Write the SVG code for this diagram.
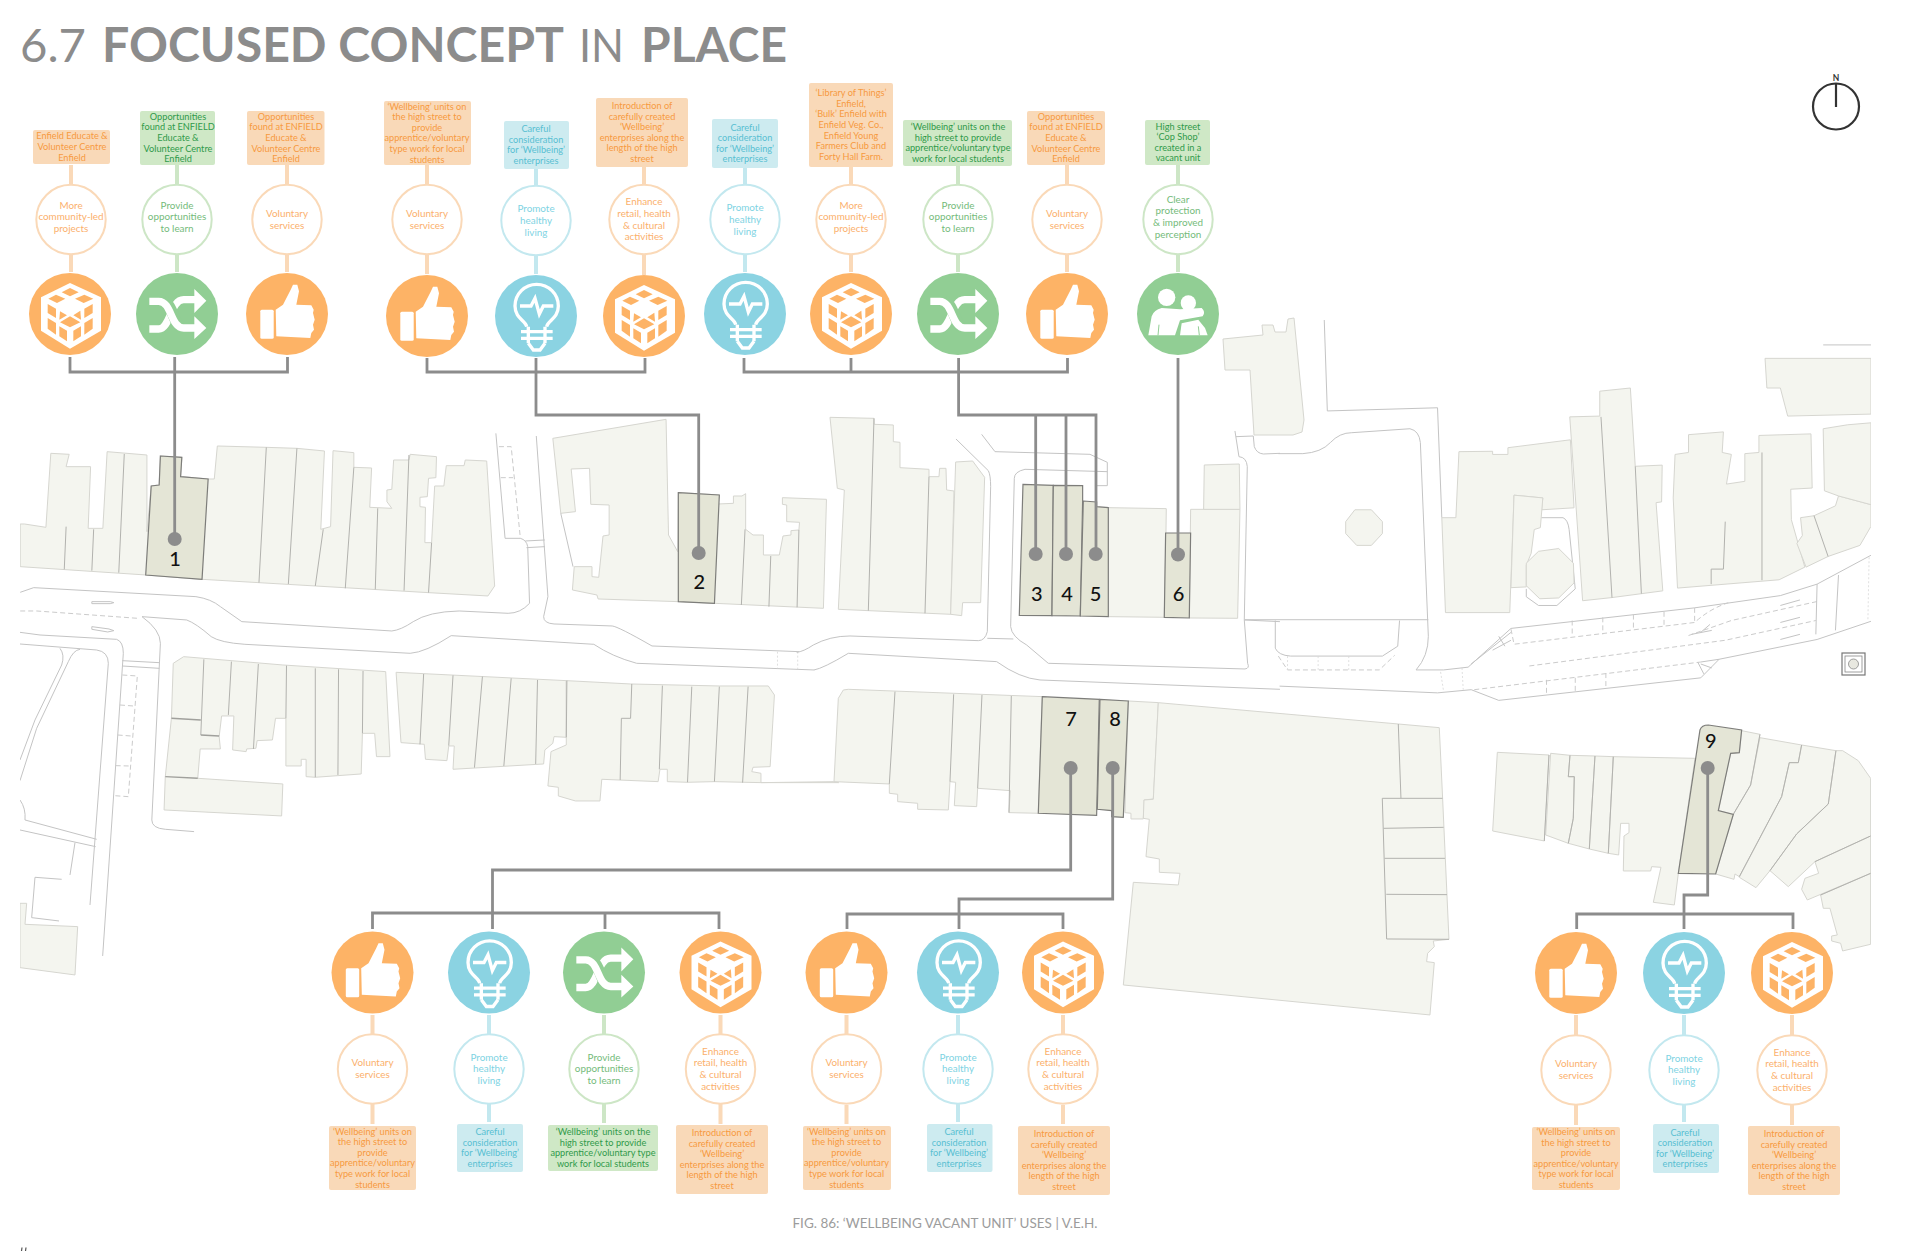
<svg xmlns="http://www.w3.org/2000/svg" width="1920" height="1251" viewBox="0 0 1920 1251">
<style>
text{font-family:"Lato","Liberation Sans",sans-serif}
.b{fill:#f4f5ef;stroke:#d6d6d0;stroke-width:1;vector-effect:non-scaling-stroke}
.d{fill:none;stroke:#b2b2ae;stroke-width:1;vector-effect:non-scaling-stroke}
.dk{fill:none;stroke:#a0a09c;stroke-width:1.4;vector-effect:non-scaling-stroke}
.r{fill:none;stroke:#c4c4c4;stroke-width:1;vector-effect:non-scaling-stroke}
.ds{fill:none;stroke:#cbcbcb;stroke-width:1;stroke-dasharray:5 3;vector-effect:non-scaling-stroke}
.dt{fill:none;stroke:#d8d8d8;stroke-width:.8;stroke-dasharray:2 2;vector-effect:non-scaling-stroke}
.u{fill:#e4e5d6;stroke:#7d7d7a;stroke-width:1.2;vector-effect:non-scaling-stroke}
.tree{fill:none;stroke:#8c8c8c;stroke-width:2.8}
.po{stroke:#fad9b8;stroke-width:4;fill:none}
.pb{stroke:#c3e8ef;stroke-width:4;fill:none}
.pg{stroke:#cde6c6;stroke-width:4;fill:none}
.box{stroke:none}
.mid{fill:#fff;stroke-width:2}
.bt{font-size:9.2px;text-anchor:middle}
.mt{font-size:9.9px;text-anchor:middle}
.o .box{fill:#f9d9b8}.o .mid{stroke:#fad9b8}.o .bt{fill:#f7993f}.o .mt{fill:#fbb06c}
.c .box{fill:#cdebf0}.c .mid{stroke:#c3e8ef}.c .bt{fill:#58bfd2}.c .mt{fill:#80d3e3}
.g .box{fill:#cfe8c6}.g .mid{stroke:#cde6c6}.g .bt{fill:#2f9a4a}.g .mt{fill:#74bb7a}
.pin{fill:#8c8c8c}
.num{font-size:20px;font-weight:500;fill:#111;text-anchor:middle}
.ttl{font-size:47px;fill:#8c8c8c}
</style>
<defs>
<clipPath id="mapclip"><rect x="20" y="300" width="1851" height="730"/></clipPath>
<g id="cube"><circle r="41" fill="#fdb366"/>
<g transform="scale(.3333) translate(-817 -218)">
<polygon points="817,125 910,168 910,268 817,322 730,268 730,168" fill="#fff"/>
<g fill="#fdb366">
<polygon points="817,140 843,153 817,165 792,153"/><polygon points="752,172 775,160 803,172 778,185"/><polygon points="832,172 860,160 887,172 858,185"/><polygon points="817,225 848,243 817,258 787,243"/>
<polygon points="750,188 775,202 775,230 750,215"/><polygon points="787,210 808,222 785,235"/><polygon points="750,230 775,245 775,280 750,262"/><polygon points="785,255 808,268 808,300 785,285"/>
<polygon points="885,188 860,202 860,230 885,215"/><polygon points="848,208 827,222 850,235"/><polygon points="885,230 860,245 860,280 885,262"/><polygon points="850,255 827,268 827,300 850,285"/>
</g></g></g>
<g id="thumb"><circle r="41" fill="#fdb366"/>
<g fill="#fff"><rect x="-26.7" y="-4.3" width="13.4" height="29" rx="1.5"/>
<path d="M-11.3-4.3-4-9.3 3.7-24.3 6-29.3H10.3L12-22.7 9.3-9.3 24.3-8.7 26.7-4.3 26-1 27.7 5.7 26 10.7 27 15.7 24.3 19 23.3 24-10.7 22.3Z"/></g></g>
<g id="bulb"><circle r="41" fill="#8bd3e2"/>
<g transform="scale(.3333) translate(-493 -218)" fill="none" stroke="#fff" stroke-width="10">
<path d="M465 250C462 232 430 225 430 188A65 65 0 0 1 560 188C560 225 528 232 525 250"/>
<path d="M445 188H478L490 165 503 212 515 188H545"/>
<path d="M448 265H543M448 285H543M470 250V300M520 250V300"/><path d="M470 300 485 320H505L520 300"/>
</g></g>
<g id="shuffle"><circle r="41" fill="#91ce94"/>
<g transform="scale(.3333) translate(-155 -148)" fill="none">
<path d="M72 193H100C135 193 135 105 175 105H212" stroke="#fff" stroke-width="22"/>
<path d="M115 110C145 120 145 190 175 190" stroke="#91ce94" stroke-width="34"/>
<path d="M72 110H100C140 110 135 190 175 190H212" stroke="#fff" stroke-width="22"/>
<path d="M207 73 243 108 207 145ZM207 155 243 190 207 223Z" fill="#fff"/>
</g></g>
<g id="people"><circle r="41" fill="#91ce94"/>
<g transform="scale(.3333) translate(-144 -148)" fill="#fff">
<circle cx="110" cy="98" r="26"/><circle cx="175" cy="115" r="23"/>
<path d="M55 212 65 155Q72 135 95 130L150 134 215 130Q228 142 218 155L150 167 135 212Z"/>
<path d="M150 212 155 176 205 165 225 190 233 212Z"/>
<path d="M84 212 87 180M208 212 205 185" stroke="#91ce94" stroke-width="3" fill="none"/>
</g></g>
</defs>
<rect width="1920" height="1251" fill="#fff"/>

<g id="title">
<text class="ttl" x="20" y="62" font-weight="400" textLength="66" lengthAdjust="spacingAndGlyphs">6.7</text>
<text class="ttl" x="102" y="62" font-weight="700" textLength="462" lengthAdjust="spacingAndGlyphs">FOCUSED CONCEPT</text>
<text class="ttl" x="579" y="62" font-weight="400" textLength="45" lengthAdjust="spacingAndGlyphs">IN</text>
<text class="ttl" x="641" y="62" font-weight="700" textLength="146" lengthAdjust="spacingAndGlyphs">PLACE</text>
</g>
<g id="compass" fill="none" stroke="#333" stroke-width="2.2">
<circle cx="1836" cy="106.5" r="23"/><path d="M1836 84V107"/>
<text x="1836" y="81" font-size="8.5" font-weight="700" fill="#333" stroke="none" text-anchor="middle">N</text>
</g>

<g id="map" clip-path="url(#mapclip)">
<g transform="translate(0 400) scale(.6122 .3333)">
<polygon class="b" points="33,500 33,372 40,372 75,382 83,160 113,163 108,200 148,200 144,385 168,385 175,155 240,165 240,395 247,258 260,255 262,168 297,172 295,230 340,237 350,237 355,138 435,142 485,145 530,153 524,388 540,380 544,152 578,158 578,202 607,204 604,322 640,325 632,305 632,270 640,268 643,180 668,180 670,163 713,170 712,233 700,235 698,290 686,292 686,320 695,322 694,428 705,428 710,258 725,258 729,197 758,197 760,180 795,183 808,558 797,588 700,578 515,558 330,538 238,525"/>
<path class="d" d="M108 380 105 508M153 388 150 512M203 162 194 518M435 142 423 548M485 145 471 552M528 388 515 558M578 202 564 565M617 325 613 568M668 165 660 572M705 428 700 578"/>
<polygon class="b" points="903,115 1088,58 1092,405 1107,455 1108,278 1175,285 1173,312 1198,310 1198,288 1212,288 1218,281 1218,388 1230,405 1247,405 1247,465 1273,465 1279,408 1292,405 1292,392 1305,390 1306,367 1285,365 1285,315 1278,313 1278,293 1350,298 1345,625 1108,605 977,597 975,585 935,570 938,500 967,500 967,530 978,532 985,408 995,405 995,315 965,313 963,205 933,207 940,335 916,340"/>
<path class="r" d="M916 340 936 500"/>
<path class="d" d="M1217 388 1211 615M1259 468 1256 620M1305 390 1302 622"/>
<polygon class="b" points="283,790 300,770 462,795 630,815 637,1070 615,1070 612,1000 592,1000 590,1122 515,1132 500,1130 500,1078 492,1078 492,1098 467,1098 467,955 450,955 445,1020 420,1022 418,1045 403,1047 402,1055 380,1050 382,948 362,948 358,1010 360,1047 327,1047 323,1135 462,1152 460,1248 268,1230 270,1130 280,955"/>
<polygon class="b" points="647,817 925,842 925,1012 905,1010 903,1030 890,1050 888,1092 740,1108 742,1038 733,1038 730,1082 695,1078 693,1033 655,1028"/>
<polygon class="b" points="925,842 1030,852 1175,858 1255,858 1265,885 1258,1100 1230,1102 1228,1115 1243,1120 1243,1148 1167,1145 1123,1147 1090,1145 1090,1108 1078,1108 1075,1145 983,1138 980,1203 940,1203 912,1188 912,1162 895,1158 900,1055 925,1035"/>
<polygon class="b" points="1243,1148 1362,1145 1370,1148 1243,1148"/>
<path class="d" d="M333 778 328 1005M378 785 373 945M422 792 414 1047M468 797 467 955M515 805 515 1132M553 808 552 1125M593 813 592 1000M692 822 686 1033M740 826 733 1037M788 830 775 1103M835 835 823 1098M878 840 875 1092M926 842 925 1012M1032 852 1030 955 1015 955 1013 1140M1082 857 1077 1108M1130 860 1123 1147M1175 860 1167 1145M1222 860 1213 1148"/>
<path class="dk" d="M280 955 328 960M328 1005 358 1008M270 1130 323 1135"/>
<path class="r" d="M33 577 55 563 320 590Q345 597 360 620L395 665 640 693Q655 690 675 665 700 635 750 633L830 640Q850 640 865 610L862 440Q860 420 850 415L825 415 810 100"/>
<path class="r" d="M876 108 895 590 888 650Q888 670 905 672L1000 678Q1010 680 1065 738L1305 755"/>
<path class="r" d="M232 650 305 660Q320 670 345 710 360 728 400 733L670 760Q695 757 737 707L970 733Q1000 770 1040 790L1330 810"/>
<path class="ds" d="M815 140H835L850 415M818 233H838M33 633H60L225 655"/>
<path class="dt" d="M1270 755V805M1303 755V808"/>
<path class="r" d="M858 423 890 420M860 443 890 440M150 605H180L186 608 180 611H150ZM150 680 178 687 186 692 176 696 150 688Z"/>
<path class="r" d="M232 650Q262 690 262 730L248 1260Q248 1285 270 1288L317 1295"/>
<polygon class="u" points="262,168 297,172 295,230 340,237 330,538 238,525 247,258 260,255"/>
<polygon class="u" points="1108,278 1175,285 1167,610 1108,605"/>
</g>
<g transform="translate(0 620) scale(.3333)">
<path class="r" d="M60 37 120 45 350 58Q370 65 370 100L308 1008M60 72 290 90Q325 95 325 130L270 855M180 85Q195 105 185 135L105 300 60 420M240 88Q220 90 205 125L110 325 60 482M60 540Q78 565 75 600L290 658M60 630 287 680M225 668 210 765M185 778 105 772 95 893 177 903M367 122 478 128M367 138 478 145"/>
<path class="ds" d="M367 165 412 168 385 530 342 527M360 255 400 258M353 345 393 348M347 437 387 438"/>
<polygon class="b" points="60,850 80,850 75,913 233,920 225,1065 60,1043"/>
</g>
<g transform="translate(780 400) scale(.3333)">
<polygon class="b" points="150,52 282,55 283,73 340,75 340,125 360,127 360,203 447,208 447,230 477,230 479,205 498,205 500,270 522,273 512,643 175,628 193,270 172,265"/>
<polygon class="b" points="527,186 578,183 614,232 602,608 548,608 545,647 512,643"/>
<path class="d" d="M282 55 265 632M447 230 435 640"/>
<path class="r" d="M528 117 625 212Q632 225 632 260L622 695Q615 722 595 722L210 708Q150 708 100 735 70 755 50 757"/>
<path class="r" d="M102 810Q130 805 205 760L650 785Q720 835 780 840L1500 868"/>
<path class="r" d="M605 103 645 155 930 163 982 187V257H945M735 208Q703 215 703 235L692 680Q695 710 740 735L805 790 1395 807Q1410 805 1403 790L1393 660 1500 665M1393 660 1402 200Q1400 172 1377 170L1365 93M622 715 700 717M735 208 982 215M1368 110 1420 108 1423 140Q1430 160 1450 162L1500 160"/>
<polygon class="b" points="985,323 1159,326 1158,400 1153,652 985,650"/>
<polygon class="b" points="1232,328 1380,328 1373,655 1228,654"/>
<polygon class="b" points="1273,195 1378,192 1380,328 1271,328"/>
<polygon class="b" points="175,895 190,870 205,868 787,890 775,1240 687,1238 691,1172 593,1165 590,1220 523,1217 527,1147 510,1145 505,1230 413,1228 413,1210 353,1205 353,1183 328,1180 328,1152 162,1145"/>
<path class="d" d="M345 875 328 1152M521 883 510 1145M606 885 593 1165M694 888 687 1238"/>
<polygon class="b" points="1045,903 1135,908 1120,1197 1093,1200 1090,1257 1053,1257 1053,1240 1035,1238"/>
<polygon class="u" points="729,253 820,256 816,647 718,646"/>
<polygon class="u" points="820,256 908,257 908,303 901,648 816,647"/>
<polygon class="u" points="910,303 950,306 950,320 985,323 985,650 901,648"/>
<polygon class="u" points="1157,399 1232,399 1228,654 1153,652"/>
<polygon class="u" points="787,890 958,898 950,1246 775,1240"/>
<polygon class="u" points="960,898 1045,903 1030,1252 995,1250 995,1232 952,1228"/>
</g>
<g transform="translate(1000 680) scale(.3333)">
<polygon class="b" points="475,68 1195,132 1318,143 1328,355 1347,778 1300,783 1303,800 1283,820 1280,845 1303,848 1290,1005 370,915 400,607 535,615 540,580 478,577 478,537 438,530 448,418 430,415 432,360 460,358"/>
<path class="d" d="M1195 132 1203 355M1147 355H1328M1147 355 1160 777 1347 778M1151 445 1331 442M1154 535H1335M1159 643 1341 644"/>
</g>
<g transform="translate(960 320) scale(.6122 .3954)">
<path class="r" d="M595 0 600 230 780 222 787 500M522 926 780 943 835 935 880 962 1210 905 1240 858 1400 808 1488 762"/>
<path class="r" d="M520 338H560Q590 335 605 310 620 285 640 285L735 275Q750 280 752 310L765 800Q765 850 745 885H790L830 878 900 780 1200 728 1340 697 1400 668 1488 595"/>
<path class="r" d="M465 758 765 758M515 760V830Q520 848 540 850H690L715 825 718 760"/>
<path class="ds" d="M520 850 535 885H685L710 848"/>
<path class="dt" d="M535 850V885M585 850V885M635 850V885M1485 600 1483 760M785 890 790 940M820 880 822 935"/>
<path class="ds" d="M900 782 905 820 1200 765Q1225 730 1255 715M1000 760V800M1050 752V795M1100 745V785M1150 738V778M1200 728V765M840 935 1210 865M958 910V945M1005 905V938M1055 893V930M930 875 1250 810 1398 760M1190 798 1260 760 1400 712"/>
<path class="r" d="M900 790 835 870M900 810 870 835M880 800 890 825M1240 858 1210 865M1215 895 1205 865M1228 880 1210 870M1400 668 1398 795M1435 645 1430 785M1340 722 1372 708M1340 765 1372 752M1340 808 1372 795M1195 795 1228 785M1210 790 1225 770"/>
<polygon class="b" points="630,510 645,480 672,480 690,510 690,540 672,570 648,570 630,540"/>
<polygon class="b" points="787,500 810,500 815,333 870,332 870,340 895,340 895,323 997,303 1003,475 950,480 952,450 905,443 898,740 793,740"/>
<polygon class="b" points="905,443 952,450 948,525 938,530 933,590 925,620 925,675 900,677"/>
<path class="r" d="M950 500H985Q993 505 995 530L1005 680 975 722H945L925 700V680"/>
<polygon class="b" points="925,615 945,585 978,578 1002,615 1003,665 978,703 947,705 925,672"/>
<polygon class="b" points="996,245 1045,243 1045,180 1095,172 1103,370 1147,367 1146,460 1137,462 1148,685 1065,702 1017,710"/>
<path class="d" d="M1047 245 1065 702M1103 370 1113 692"/>
<polygon class="b" points="1168,340 1190,335 1190,290 1247,283 1245,335 1260,340 1252,415 1282,408 1282,338 1305,335 1305,292 1390,288 1392,425 1357,428 1358,505 1380,625 1338,657 1172,678 1165,450"/>
<path class="d" d="M1310 335V658M1247 630H1227V668M1250 510 1247 630"/>
<polygon class="b" points="1373,500 1395,495 1430,470 1435,445 1488,467 1488,522 1470,570 1418,598 1382,625 1367,565 1376,545"/>
<path class="d" d="M1395 495 1418 598"/>
<polygon class="b" points="1410,275 1450,265 1488,260 1488,467 1435,445 1412,432"/>
<polygon class="b" points="1315,97 1488,97 1488,238 1352,243 1340,172 1318,172"/>
<path class="r" d="M1410 63H1488"/>
</g>
<polygon class="b" points="1223,339 1263,335 1262,325 1273,325 1275,332 1286,332 1288,319 1294,318 1304,420 1302,432 1293,435 1254,435 1250,370 1225,370"/>
<g id="marker"><rect x="1842" y="653" width="23" height="22" fill="none" stroke="#777" stroke-width="1.2"/><rect x="1845" y="656" width="17" height="16" fill="none" stroke="#888" stroke-width=".8"/><circle cx="1853.5" cy="664" r="5" fill="#e8e8e0" stroke="#888" stroke-width=".8"/></g>
<g transform="translate(1480 680) scale(.3333)">
<polygon class="b" points="52,217 207,225 193,483 38,453"/>
<polygon class="b" points="212,220 270,226 265,290 283,290 280,415 265,490 197,465"/>
<polygon class="b" points="270,226 345,228 328,507 265,490 280,415 283,290 265,290"/>
<polygon class="b" points="345,228 400,230 385,520 328,507"/>
<polygon class="b" points="400,230 645,235 595,580 583,675 520,667 543,562 515,560 512,573 430,573 432,468 447,458 447,430 422,430 416,525 385,520"/>
<polygon class="b" points="785,152 840,163 812,315 760,403 715,392 752,220 778,218"/>
<polygon class="b" points="760,403 812,315 840,173 965,195 955,248 928,248 905,350 778,590 765,582 762,598 707,582"/>
<polygon class="b" points="965,195 1068,212 1045,372 950,462 870,572 828,623 778,592 905,350 928,248 955,248"/>
<polygon class="b" points="1068,212 1088,212 1135,242 1172,295 1172,468 1005,545 925,620 870,572 950,462 1045,372"/>
<polygon class="b" points="1022,645 1172,580 1172,793 1088,813 1082,790 1055,783 1055,768 1072,765 1050,685 1030,685"/>
<polygon class="b" points="1005,545 1172,468 1172,580 982,660 965,628 975,595 1016,580"/>
<path class="d" d="M207 225 193 483M270 226 265 290H283L280 415 265 490M345 228 328 507M400 230 385 520M965 195 955 248H928L905 350 778 590M1068 212 1045 372 950 462 870 572M1005 545 1172 468M1022 645 1172 580M840 163 812 315 760 403"/>
<path class="u" d="M660 150Q665 135 685 135L785 150 778 218 752 220 715 392 760 403 707 582 595 580Z"/>
</g>
</g>

<g id="connectors">
<g class="tree">
<path d="M70 357V372H287.5V357M174.7 357V539"/>
<path d="M427 358V372H645V358M536 358V415H698.7V553"/>
<path d="M744 358V372H1067.5V358M851 358V372M958.6 358V415H1096V554M1035.7 415V554M1066 415V554"/>
<path d="M1178 358V554"/>
<path d="M372.5 929V913H719V929M492.5 929V870H1070.7V768M605 913V929"/>
<path d="M847 929V914H1063V929M959 929V899H1112.7V768"/>
<path d="M1576.7 929V914H1793V929M1684 929V895H1707.7V768"/>
</g>
<path class="po" d="M71 165V185M71 254V272M287 165V185M287 254V272M427 165V185M427 254V274M644 167V185M644 254V275M851 167V185M851 253V272M1067 165V185M1067 253V272M372.5 1015V1034M372.5 1104V1124M720.5 1015V1034M720.5 1104V1124M846.5 1015V1034M846.5 1105V1124M1063 1015V1034M1063 1105V1124M1576 1015V1035M1576 1105V1125M1792 1015V1035M1792 1105V1125"/>
<path class="pb" d="M536 169V186M536 255V274M745 168V185M745 253V272M489 1015V1034M489 1104V1122M958 1015V1034M958 1104V1122M1684 1015V1035M1684 1105V1122"/>
<path class="pg" d="M177 165V185M177 254V272M958 166V185M958 253V272M1178 165V185M1178 253V272M604 1015V1034M604 1104V1123"/>
</g>

<g id="pins">
<g id="pin1"><circle class="pin" cx="174.7" cy="539" r="7"/><text class="num" x="175" y="566">1</text></g>
<g id="pin2"><circle class="pin" cx="698.7" cy="553" r="7"/><text class="num" x="699.3" y="589">2</text></g>
<g id="pin3"><circle class="pin" cx="1035.7" cy="554" r="7"/><text class="num" x="1036.7" y="601">3</text></g>
<g id="pin4"><circle class="pin" cx="1066" cy="554" r="7"/><text class="num" x="1067" y="601">4</text></g>
<g id="pin5"><circle class="pin" cx="1095.7" cy="554" r="7"/><text class="num" x="1095.5" y="601">5</text></g>
<g id="pin6"><circle class="pin" cx="1178" cy="554.5" r="7"/><text class="num" x="1178.5" y="601">6</text></g>
<g id="pin7"><circle class="pin" cx="1070.7" cy="768" r="7"/><text class="num" x="1071" y="726">7</text></g>
<g id="pin8"><circle class="pin" cx="1112.7" cy="768" r="7"/><text class="num" x="1115" y="726">8</text></g>
<g id="pin9"><circle class="pin" cx="1707.7" cy="768" r="7"/><text class="num" x="1710.7" y="748">9</text></g>
</g>

<g id="n1" class="o" transform="translate(71 0)"><rect class="box" x="-38" y="130" width="77" height="34" rx="2"/>
<text class="bt" y="139.4"><tspan x="1">Enfield Educate &amp;</tspan><tspan x="1" dy="10.6">Volunteer Centre</tspan><tspan x="1" dy="10.6">Enfield</tspan></text>
<circle class="mid" cy="219.5" r="34.7"/><text class="mt" y="208.6"><tspan x="0">More</tspan><tspan x="0" dy="11.8">community-led</tspan><tspan x="0" dy="11.8">projects</tspan></text><use href="#cube" x="-1" y="314"/></g>

<g id="n2" class="g" transform="translate(177 0)"><rect class="box" x="-37" y="111" width="75" height="54" rx="2"/>
<text class="bt" y="119.8"><tspan x="1">Opportunities</tspan><tspan x="1" dy="10.6">found at ENFIELD</tspan><tspan x="1" dy="10.6">Educate &amp;</tspan><tspan x="1" dy="10.6">Volunteer Centre</tspan><tspan x="1" dy="10.6">Enfield</tspan></text>
<circle class="mid" cy="219.5" r="34.7"/><text class="mt" y="208.6"><tspan x="0">Provide</tspan><tspan x="0" dy="11.8">opportunities</tspan><tspan x="0" dy="11.8">to learn</tspan></text><use href="#shuffle" y="314"/></g>

<g id="n3" class="o" transform="translate(287 0)"><rect class="box" x="-40" y="111" width="77.5" height="54" rx="2"/>
<text class="bt" y="119.8"><tspan x="-1">Opportunities</tspan><tspan x="-1" dy="10.6">found at ENFIELD</tspan><tspan x="-1" dy="10.6">Educate &amp;</tspan><tspan x="-1" dy="10.6">Volunteer Centre</tspan><tspan x="-1" dy="10.6">Enfield</tspan></text>
<circle class="mid" cy="219.5" r="34.7"/><text class="mt" y="216.9"><tspan x="0">Voluntary</tspan><tspan x="0" dy="11.8">services</tspan></text><use href="#thumb" y="314"/></g>

<g id="n4" class="o" transform="translate(427 0)"><rect class="box" x="-43" y="101" width="87" height="64" rx="2"/>
<text class="bt" y="109.5"><tspan x="0">‘Wellbeing’ units on</tspan><tspan x="0" dy="10.6">the high street to</tspan><tspan x="0" dy="10.6">provide</tspan><tspan x="0" dy="10.6">apprentice/voluntary</tspan><tspan x="0" dy="10.6">type work for local</tspan><tspan x="0" dy="10.6">students</tspan></text>
<circle class="mid" cy="219.5" r="34.7"/><text class="mt" y="216.9"><tspan x="0">Voluntary</tspan><tspan x="0" dy="11.8">services</tspan></text><use href="#thumb" y="316"/></g>

<g id="n5" class="c" transform="translate(536 0)"><rect class="box" x="-32" y="121" width="65" height="48" rx="2"/>
<text class="bt" y="132"><tspan x="0">Careful</tspan><tspan x="0" dy="10.6">consideration</tspan><tspan x="0" dy="10.6">for ‘Wellbeing’</tspan><tspan x="0" dy="10.6">enterprises</tspan></text>
<circle class="mid" cy="220.5" r="34.7"/><text class="mt" y="212"><tspan x="0">Promote</tspan><tspan x="0" dy="11.8">healthy</tspan><tspan x="0" dy="11.8">living</tspan></text><use href="#bulb" y="316"/></g>

<g id="n6" class="o" transform="translate(644 0)"><rect class="box" x="-48" y="98" width="92" height="69" rx="2"/>
<text class="bt" y="109"><tspan x="-2">Introduction of</tspan><tspan x="-2" dy="10.6">carefully created</tspan><tspan x="-2" dy="10.6">‘Wellbeing’</tspan><tspan x="-2" dy="10.6">enterprises along the</tspan><tspan x="-2" dy="10.6">length of the high</tspan><tspan x="-2" dy="10.6">street</tspan></text>
<circle class="mid" cy="219.5" r="34.7"/><text class="mt" y="205"><tspan x="0">Enhance</tspan><tspan x="0" dy="11.8">retail, health</tspan><tspan x="0" dy="11.8">&amp; cultural</tspan><tspan x="0" dy="11.8">activities</tspan></text><use href="#cube" y="316"/></g>

<g id="n7" class="c" transform="translate(745 0)"><rect class="box" x="-33" y="119" width="66" height="49" rx="2"/>
<text class="bt" y="130.6"><tspan x="0">Careful</tspan><tspan x="0" dy="10.6">consideration</tspan><tspan x="0" dy="10.6">for ‘Wellbeing’</tspan><tspan x="0" dy="10.6">enterprises</tspan></text>
<circle class="mid" cy="219.5" r="34.7"/><text class="mt" y="211"><tspan x="0">Promote</tspan><tspan x="0" dy="11.8">healthy</tspan><tspan x="0" dy="11.8">living</tspan></text><use href="#bulb" y="314"/></g>

<g id="n8" class="o" transform="translate(851 0)"><rect class="box" x="-42" y="83" width="84" height="84" rx="2"/>
<text class="bt" y="96.2"><tspan x="0">‘Library of Things’</tspan><tspan x="0" dy="10.6">Enfield,</tspan><tspan x="0" dy="10.6">‘Bulk’ Enfield with</tspan><tspan x="0" dy="10.6">Enfield Veg. Co.,</tspan><tspan x="0" dy="10.6">Enfield Young</tspan><tspan x="0" dy="10.6">Farmers Club and</tspan><tspan x="0" dy="10.6">Forty Hall Farm.</tspan></text>
<circle class="mid" cy="219.5" r="34.7"/><text class="mt" y="208.6"><tspan x="0">More</tspan><tspan x="0" dy="11.8">community-led</tspan><tspan x="0" dy="11.8">projects</tspan></text><use href="#cube" y="314"/></g>

<g id="n9" class="g" transform="translate(958 0)"><rect class="box" x="-55" y="120" width="109" height="46" rx="2"/>
<text class="bt" y="130"><tspan x="0">‘Wellbeing’ units on the</tspan><tspan x="0" dy="10.6">high street to provide</tspan><tspan x="0" dy="10.6">apprentice/voluntary type</tspan><tspan x="0" dy="10.6">work for local students</tspan></text>
<circle class="mid" cy="219.5" r="34.7"/><text class="mt" y="208.6"><tspan x="0">Provide</tspan><tspan x="0" dy="11.8">opportunities</tspan><tspan x="0" dy="11.8">to learn</tspan></text><use href="#shuffle" y="314"/></g>

<g id="n10" class="o" transform="translate(1067 0)"><rect class="box" x="-40" y="111" width="78" height="54" rx="2"/>
<text class="bt" y="119.8"><tspan x="-1">Opportunities</tspan><tspan x="-1" dy="10.6">found at ENFIELD</tspan><tspan x="-1" dy="10.6">Educate &amp;</tspan><tspan x="-1" dy="10.6">Volunteer Centre</tspan><tspan x="-1" dy="10.6">Enfield</tspan></text>
<circle class="mid" cy="219.5" r="34.7"/><text class="mt" y="216.9"><tspan x="0">Voluntary</tspan><tspan x="0" dy="11.8">services</tspan></text><use href="#thumb" y="314"/></g>

<g id="n11" class="g" transform="translate(1178 0)"><rect class="box" x="-33" y="120" width="65" height="45" rx="2"/>
<text class="bt" y="129.6"><tspan x="0">High street</tspan><tspan x="0" dy="10.6">‘Cop Shop’</tspan><tspan x="0" dy="10.6">created in a</tspan><tspan x="0" dy="10.6">vacant unit</tspan></text>
<circle class="mid" cy="219.5" r="34.7"/><text class="mt" y="202.6"><tspan x="0">Clear</tspan><tspan x="0" dy="11.8">protection</tspan><tspan x="0" dy="11.8">&amp; improved</tspan><tspan x="0" dy="11.8">perception</tspan></text><use href="#people" y="314"/></g>

<g id="n12" class="o" transform="translate(372.5 0)"><use href="#thumb" y="972.5"/><circle class="mid" cy="1069" r="34.7"/><text class="mt" y="1066.4"><tspan x="0">Voluntary</tspan><tspan x="0" dy="11.8">services</tspan></text>
<rect class="box" x="-43.5" y="1126" width="87" height="64" rx="2"/><text class="bt" y="1134.5"><tspan x="0">‘Wellbeing’ units on</tspan><tspan x="0" dy="10.6">the high street to</tspan><tspan x="0" dy="10.6">provide</tspan><tspan x="0" dy="10.6">apprentice/voluntary</tspan><tspan x="0" dy="10.6">type work for local</tspan><tspan x="0" dy="10.6">students</tspan></text></g>

<g id="n13" class="c" transform="translate(489 0)"><use href="#bulb" y="972.5"/><circle class="mid" cy="1069" r="34.7"/><text class="mt" y="1060.5"><tspan x="0">Promote</tspan><tspan x="0" dy="11.8">healthy</tspan><tspan x="0" dy="11.8">living</tspan></text>
<rect class="box" x="-32" y="1124" width="66" height="48" rx="2"/><text class="bt" y="1135"><tspan x="1">Careful</tspan><tspan x="1" dy="10.6">consideration</tspan><tspan x="1" dy="10.6">for ‘Wellbeing’</tspan><tspan x="1" dy="10.6">enterprises</tspan></text></g>

<g id="n14" class="g" transform="translate(604 0)"><use href="#shuffle" y="972.5"/><circle class="mid" cy="1069" r="34.7"/><text class="mt" y="1060.5"><tspan x="0">Provide</tspan><tspan x="0" dy="11.8">opportunities</tspan><tspan x="0" dy="11.8">to learn</tspan></text>
<rect class="box" x="-56" y="1125" width="110" height="46" rx="2"/><text class="bt" y="1135"><tspan x="-1">‘Wellbeing’ units on the</tspan><tspan x="-1" dy="10.6">high street to provide</tspan><tspan x="-1" dy="10.6">apprentice/voluntary type</tspan><tspan x="-1" dy="10.6">work for local students</tspan></text></g>

<g id="n15" class="o" transform="translate(720.5 0)"><use href="#cube" y="972.5"/><circle class="mid" cy="1069" r="34.7"/><text class="mt" y="1054.6"><tspan x="0">Enhance</tspan><tspan x="0" dy="11.8">retail, health</tspan><tspan x="0" dy="11.8">&amp; cultural</tspan><tspan x="0" dy="11.8">activities</tspan></text>
<rect class="box" x="-44.5" y="1125" width="92" height="69" rx="2"/><text class="bt" y="1136"><tspan x="1.5">Introduction of</tspan><tspan x="1.5" dy="10.6">carefully created</tspan><tspan x="1.5" dy="10.6">‘Wellbeing’</tspan><tspan x="1.5" dy="10.6">enterprises along the</tspan><tspan x="1.5" dy="10.6">length of the high</tspan><tspan x="1.5" dy="10.6">street</tspan></text></g>

<g id="n16" class="o" transform="translate(846.5 0)"><use href="#thumb" y="972.5"/><circle class="mid" cy="1069" r="34.7"/><text class="mt" y="1066.4"><tspan x="0">Voluntary</tspan><tspan x="0" dy="11.8">services</tspan></text>
<rect class="box" x="-43.5" y="1126" width="88" height="64" rx="2"/><text class="bt" y="1134.5"><tspan x="0">‘Wellbeing’ units on</tspan><tspan x="0" dy="10.6">the high street to</tspan><tspan x="0" dy="10.6">provide</tspan><tspan x="0" dy="10.6">apprentice/voluntary</tspan><tspan x="0" dy="10.6">type work for local</tspan><tspan x="0" dy="10.6">students</tspan></text></g>

<g id="n17" class="c" transform="translate(958 0)"><use href="#bulb" y="972.5"/><circle class="mid" cy="1069" r="34.7"/><text class="mt" y="1060.5"><tspan x="0">Promote</tspan><tspan x="0" dy="11.8">healthy</tspan><tspan x="0" dy="11.8">living</tspan></text>
<rect class="box" x="-31" y="1124" width="65.5" height="48" rx="2"/><text class="bt" y="1135"><tspan x="1">Careful</tspan><tspan x="1" dy="10.6">consideration</tspan><tspan x="1" dy="10.6">for ‘Wellbeing’</tspan><tspan x="1" dy="10.6">enterprises</tspan></text></g>

<g id="n18" class="o" transform="translate(1063 0)"><use href="#cube" y="972.5"/><circle class="mid" cy="1069" r="34.7"/><text class="mt" y="1054.6"><tspan x="0">Enhance</tspan><tspan x="0" dy="11.8">retail, health</tspan><tspan x="0" dy="11.8">&amp; cultural</tspan><tspan x="0" dy="11.8">activities</tspan></text>
<rect class="box" x="-45" y="1126" width="92" height="69" rx="2"/><text class="bt" y="1137"><tspan x="1">Introduction of</tspan><tspan x="1" dy="10.6">carefully created</tspan><tspan x="1" dy="10.6">‘Wellbeing’</tspan><tspan x="1" dy="10.6">enterprises along the</tspan><tspan x="1" dy="10.6">length of the high</tspan><tspan x="1" dy="10.6">street</tspan></text></g>

<g id="n19" class="o" transform="translate(1576 0)"><use href="#thumb" y="973"/><circle class="mid" cy="1070" r="34.7"/><text class="mt" y="1067.4"><tspan x="0">Voluntary</tspan><tspan x="0" dy="11.8">services</tspan></text>
<rect class="box" x="-44" y="1127" width="88" height="63" rx="2"/><text class="bt" y="1135"><tspan x="0">‘Wellbeing’ units on</tspan><tspan x="0" dy="10.6">the high street to</tspan><tspan x="0" dy="10.6">provide</tspan><tspan x="0" dy="10.6">apprentice/voluntary</tspan><tspan x="0" dy="10.6">type work for local</tspan><tspan x="0" dy="10.6">students</tspan></text></g>

<g id="n20" class="c" transform="translate(1684 0)"><use href="#bulb" y="973"/><circle class="mid" cy="1070" r="34.7"/><text class="mt" y="1061.5"><tspan x="0">Promote</tspan><tspan x="0" dy="11.8">healthy</tspan><tspan x="0" dy="11.8">living</tspan></text>
<rect class="box" x="-31" y="1124" width="66" height="49" rx="2"/><text class="bt" y="1135.5"><tspan x="1">Careful</tspan><tspan x="1" dy="10.6">consideration</tspan><tspan x="1" dy="10.6">for ‘Wellbeing’</tspan><tspan x="1" dy="10.6">enterprises</tspan></text></g>

<g id="n21" class="o" transform="translate(1792 0)"><use href="#cube" y="973"/><circle class="mid" cy="1070" r="34.7"/><text class="mt" y="1055.6"><tspan x="0">Enhance</tspan><tspan x="0" dy="11.8">retail, health</tspan><tspan x="0" dy="11.8">&amp; cultural</tspan><tspan x="0" dy="11.8">activities</tspan></text>
<rect class="box" x="-44" y="1126" width="92" height="69" rx="2"/><text class="bt" y="1137"><tspan x="2">Introduction of</tspan><tspan x="2" dy="10.6">carefully created</tspan><tspan x="2" dy="10.6">‘Wellbeing’</tspan><tspan x="2" dy="10.6">enterprises along the</tspan><tspan x="2" dy="10.6">length of the high</tspan><tspan x="2" dy="10.6">street</tspan></text></g>

<text id="caption" x="792.5" y="1228" font-size="12.5" fill="#9c9c9c" textLength="305" lengthAdjust="spacingAndGlyphs">FIG. 86: ‘WELLBEING VACANT UNIT’ USES | V.E.H.</text>
<path d="M22 1247.5 21.5 1251M26 1247.5 25.5 1251" stroke="#555" stroke-width="1.2" fill="none"/>
</svg>
